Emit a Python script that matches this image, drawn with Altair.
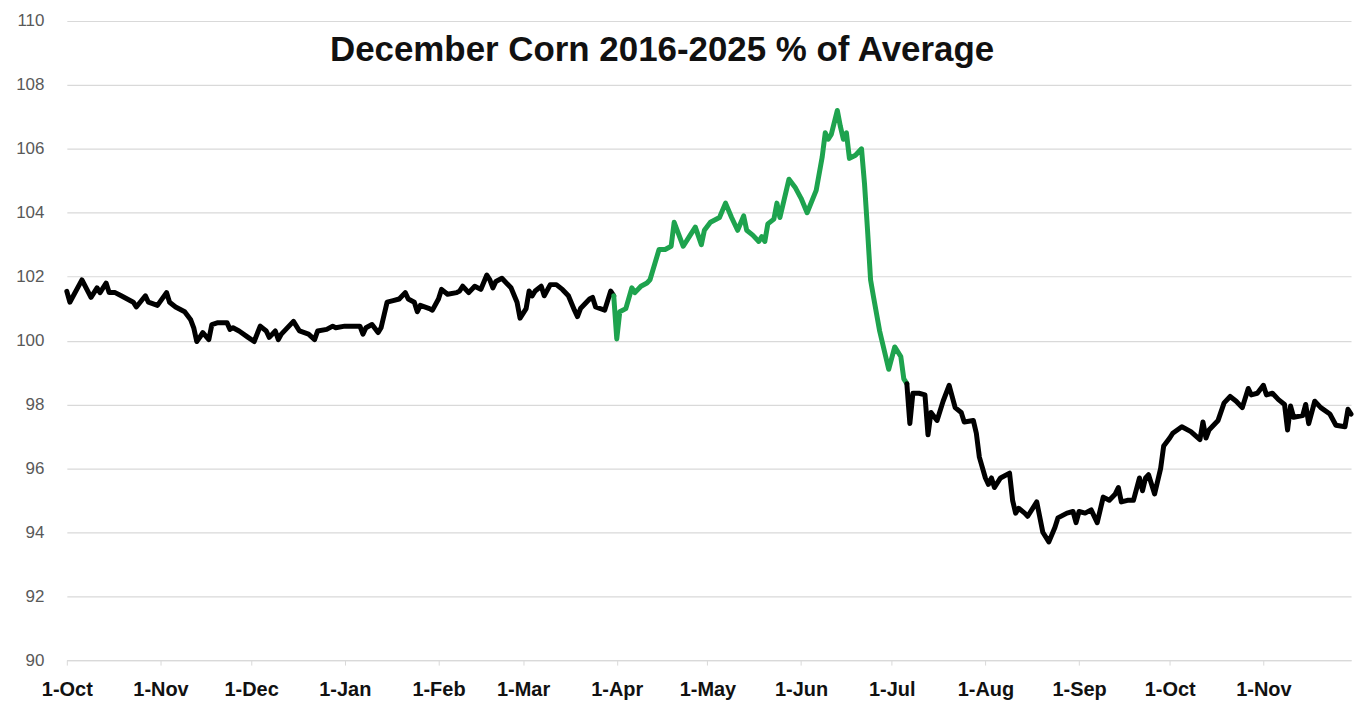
import altair as alt
import pandas as pd

TITLE = "December Corn 2016-2025 % of Average"
START = "2024-10-01"
GREEN_FROM, GREEN_TO = 181, 278  # day offsets of the highlighted stretch

days = [0,1,5,8,10,11,13,14,16,18,22,23,26,27,30,33,34,36,39,41,42,43,44,45,47,48,50,53,54,55,57,60,62,64,66,67,69,70,71,75,77,80,82,83,86,88,89,92,93,97,98,99,101,103,104,106,108,110,112,113,115,116,117,120,121,123,124,126,129,130,131,133,135,137,139,140,141,142,144,145,147,149,150,152,153,154,155,157,158,160,162,164,166,168,169,170,173,174,175,178,180,181,
        182,183,185,187,188,190,192,193,196,198,200,201,202,204,206,208,210,211,213,216,218,220,222,224,225,227,229,230,231,232,234,235,236,239,241,243,245,248,250,251,252,253,255,256,257,258,259,261,263,264,265,266,267,269,271,272,274,276,277,278,
        279,280,282,284,285,286,288,290,292,294,296,297,300,301,302,304,305,306,307,309,312,313,314,315,317,318,321,323,325,327,328,331,333,334,335,337,339,341,343,345,347,348,349,351,353,355,356,357,358,360,362,363,365,366,369,372,375,376,377,378,381,383,385,387,389,391,392,394,396,397,399,401,403,404,405,406,409,410,411,413,415,418,420,423,424,425]

pct = [101.54,101.2,101.9,101.35,101.65,101.5,101.8,101.5,101.5,101.4,101.2,101.05,101.4,101.2,101.1,101.5,101.2,101.05,100.9,100.65,100.4,99.97,100.1,100.25,100.03,100.5,100.56,100.56,100.35,100.4,100.3,100.1,99.97,100.45,100.3,100.1,100.3,100.03,100.2,100.6,100.3,100.2,100.03,100.3,100.35,100.45,100.4,100.45,100.45,100.45,100.2,100.4,100.5,100.25,100.4,101.2,101.25,101.3,101.5,101.3,101.2,100.9,101.1,101.0,100.95,101.3,101.6,101.45,101.5,101.55,101.7,101.5,101.7,101.6,102.05,101.9,101.65,101.85,101.95,101.85,101.65,101.2,100.7,101.0,101.55,101.4,101.55,101.7,101.4,101.75,101.75,101.6,101.4,100.95,100.75,101.0,101.3,101.35,101.05,100.95,101.55,101.4,
       100.05,100.9,101.0,101.65,101.5,101.7,101.8,101.9,102.85,102.85,102.95,103.7,103.45,102.95,103.25,103.55,103.0,103.45,103.7,103.85,104.3,103.85,103.45,103.9,103.45,103.3,103.1,103.25,103.1,103.65,103.8,104.3,103.85,105.05,104.8,104.45,104.0,104.7,105.75,106.5,106.3,106.45,107.2,106.7,106.3,106.5,105.7,105.8,106.0,104.9,103.45,101.9,101.35,100.3,99.5,99.1,99.8,99.5,98.8,98.65,
       97.4,98.35,98.35,98.3,97.05,97.75,97.5,98.1,98.6,97.9,97.75,97.45,97.5,97.1,96.35,95.7,95.5,95.7,95.4,95.7,95.85,95.0,94.6,94.75,94.6,94.5,94.95,94.0,93.7,94.15,94.45,94.6,94.65,94.3,94.65,94.6,94.7,94.3,95.1,95.0,95.2,95.4,94.95,95.0,95.0,95.7,95.3,95.7,95.8,95.2,96.0,96.7,96.95,97.1,97.3,97.15,96.9,97.45,96.95,97.2,97.5,98.05,98.25,98.1,97.9,98.5,98.3,98.35,98.6,98.3,98.35,98.15,98.0,97.2,97.95,97.6,97.65,98.0,97.4,98.1,97.9,97.7,97.35,97.3,97.85,97.7]

tick_months = [(2024, 10), (2024, 11), (2024, 12), (2025, 1), (2025, 2), (2025, 3), (2025, 4),
               (2025, 5), (2025, 6), (2025, 7), (2025, 8), (2025, 9), (2025, 10), (2025, 11)]
y_ticks = [90, 92, 94, 96, 98, 100, 102, 104, 106, 108, 110]

# build table; duplicate the boundary points so segments join
start = pd.Timestamp(START)
rows = []
for d, v in zip(days, pct):
    dt = (start + pd.Timedelta(days=d)).strftime("%Y-%m-%dT00:00:00")
    if d <= GREEN_FROM:
        rows.append({"date": dt, "pct": v, "part": "a"})
    if GREEN_FROM <= d <= GREEN_TO:
        rows.append({"date": dt, "pct": v, "part": "g"})
    if d >= GREEN_TO:
        rows.append({"date": dt, "pct": v, "part": "b"})
df = pd.DataFrame(rows)

tick_vals = [alt.DateTime(year=y, month=m, date=1) for y, m in tick_months]

x = alt.X(
    "date:T",
    scale=alt.Scale(domain=[alt.DateTime(year=2024, month=10, date=1),
                            alt.DateTime(year=2025, month=11, date=30)], nice=False),
    axis=alt.Axis(
        values=tick_vals, format="%-d-%b", title=None, grid=False,
        domainColor="#d9d9d9", domainWidth=1.2, tickColor="#d9d9d9", tickSize=5,
        labelFont="Liberation Sans", labelFontWeight="bold", labelFontSize=20, labelColor="#111111",
        labelPadding=15, labelFlush=False, labelOverlap=False,
    ),
)
y = alt.Y(
    "pct:Q",
    scale=alt.Scale(domain=[90, 110], nice=False, zero=False),
    axis=alt.Axis(
        values=y_ticks, title=None, domain=False, ticks=False,
        gridColor="#d9d9d9", gridWidth=1.2,
        labelFont="Liberation Sans", labelFontSize=17, labelColor="#595959", labelPadding=23,
        labelFlush=False,
    ),
)

line = alt.Chart(df).mark_line(strokeWidth=5, strokeJoin="round", strokeCap="round").encode(
    x=x, y=y,
    color=alt.Color("part:N", scale=alt.Scale(domain=["a", "g", "b"],
                                              range=["#000000", "#1ea34e", "#000000"]), legend=None),
    detail="part:N",
)

title = alt.Chart(pd.DataFrame({"t": [TITLE]})).mark_text(
    font="Liberation Sans", fontSize=35, fontWeight="bold", color="#111111",
    align="center", baseline="middle",
).encode(text="t:N", x=alt.value(597), y=alt.value(29))

chart = alt.layer(line, title).properties(
    width=1288, height=641,
    padding={"left": 59, "top": 12, "right": 5, "bottom": 40},
    autosize=alt.AutoSizeParams(type="none"),
    background="white",
).configure_view(stroke="transparent", strokeWidth=0)

chart.save("out.html", embed_options={"renderer": "svg", "actions": False})
